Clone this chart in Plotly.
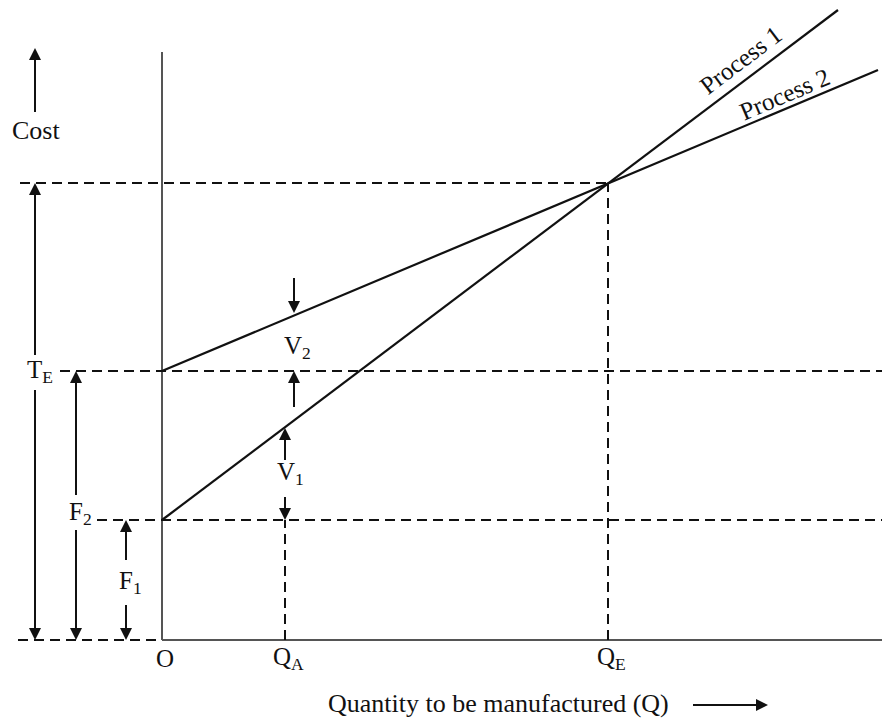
import plotly.graph_objects as go

# ---- values (diagram units, origin O at 0,0) ----
quantity_ticks = [0, 123, 446]          # O, Q_A, Q_E
tick_labels = ["O", "Q<sub>A</sub>", "Q<sub>E</sub>"]
fixed_costs = [120, 269]                # F1, F2
total_cost_at_QE = 457                  # T_E
process1_x = [0, 676]
process1_y = [120, 630]
process2_x = [0, 716]
process2_y = [269, 570]

# page body has an 8px margin: figure is 882x711 and the ranges are shifted
X_MIN, X_MAX = -154, 728
Y_MIN, Y_MAX = -79, 632

FONT = "Liberation Serif, Times New Roman, serif"
BLACK = "#111111"
AXIS = "#555555"
DASH = "10px,6px"

fig = go.Figure()

def line(xs, ys, color=BLACK, width=2, dash="solid"):
    fig.add_trace(go.Scatter(x=xs, y=ys, mode="lines", hoverinfo="skip",
                             line=dict(color=color, width=width, dash=dash),
                             showlegend=False))

QO, QA, QE = quantity_ticks
F1, F2 = fixed_costs
TE = total_cost_at_QE

# axes
line([QO, QO], [0, 588], color=AXIS, width=2)
line([QO, X_MAX], [0, 0], color=AXIS, width=2)
line([-144, QO], [0, 0], dash=DASH)

# dashed guide lines
line([-142, QE], [TE, TE], dash=DASH)
line([-102, X_MAX], [F2, F2], dash=DASH)
line([-65, X_MAX], [F1, F1], dash=DASH)
line([QA, QA], [0, F1], dash=DASH)
line([QE, QE], [0, TE], dash=DASH)

# process lines
line(process1_x, process1_y, width=2.2)
line(process2_x, process2_y, width=2.2)

def arrow(x, y, ax, ay):
    """Arrow from tail (ax, ay) to tip (x, y)."""
    if x == ax:
        sym = "arrow-up" if y > ay else "arrow-down"
        sx, sy = x, (y - 4 if y > ay else y + 4)
    else:
        sym = "arrow-right" if x > ax else "arrow-left"
        sx, sy = (x - 4 if x > ax else x + 4), y
    fig.add_trace(go.Scatter(x=[ax, sx], y=[ay, sy], mode="lines",
                             hoverinfo="skip", showlegend=False,
                             line=dict(color=BLACK, width=2)))
    fig.add_trace(go.Scatter(x=[x], y=[y], mode="markers", hoverinfo="skip",
                             showlegend=False,
                             marker=dict(symbol=sym, size=12, color=BLACK,
                                         line=dict(width=0))))

def label(x, y, text, size=25, angle=0):
    fig.add_annotation(x=x, y=y, xref="x", yref="y", text=text,
                       showarrow=False, textangle=angle,
                       font=dict(family=FONT, size=size, color=BLACK))

# T_E double arrow
arrow(-127, TE, -127, 285)
arrow(-127, 0, -127, 250)
label(-122, F2, "T<sub>E</sub>")
# F2 double arrow
arrow(-86, F2, -86, 145)
arrow(-86, 0, -86, 110)
label(-82, 127, "F<sub>2</sub>")
# F1 double arrow
arrow(-36, F1, -36, 80)
arrow(-36, 0, -36, 35)
label(-32, 58, "F<sub>1</sub>")
# V1
arrow(QA, 212, QA, 180)
arrow(QA, F1, QA, 143)
label(QA + 5, 167, "V<sub>1</sub>")
# V2
arrow(132, 327, 132, 362)
arrow(132, F2, 132, 233)
label(135, 293, "V<sub>2</sub>")

# Cost axis arrow & label
arrow(-127, 592, -127, 528)
label(-126, 510, "Cost", size=26)

# x-axis title and arrow
label(336, -63, "Quantity to be manufactured (Q)", size=26)
arrow(606, -65, 531, -65)

# tick labels
for q, t in zip(quantity_ticks, tick_labels):
    label(q + 3, -18, t)

# process labels
label(578, 580, "Process 1", size=25, angle=-37)
label(622, 546, "Process 2", size=25, angle=-23)

fig.update_layout(
    width=882, height=711,
    margin=dict(l=0, r=0, t=0, b=0),
    paper_bgcolor="white", plot_bgcolor="white",
    xaxis=dict(range=[X_MIN, X_MAX], visible=False, fixedrange=True),
    yaxis=dict(range=[Y_MIN, Y_MAX], visible=False, fixedrange=True),
)

fig.write_html("out.html")
